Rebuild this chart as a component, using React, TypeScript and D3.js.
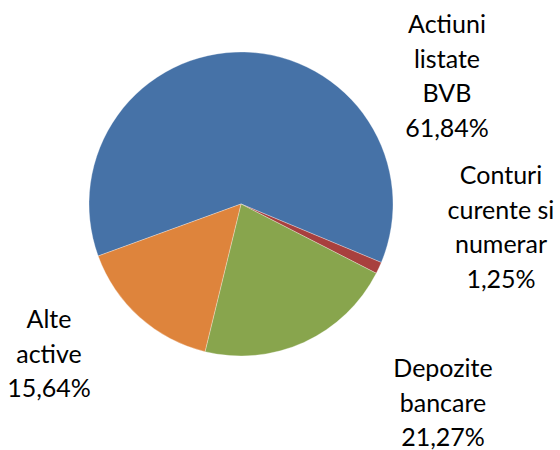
import React from "react";
import * as d3 from "d3";

const categories = ["Actiuni listate BVB", "Conturi curente si numerar", "Depozite bancare", "Alte active"];
const values = [61.84, 1.25, 21.27, 15.64];
const labelLines = [
  ["Actiuni", "listate", "BVB", "61,84%"],
  ["Conturi", "curente si", "numerar", "1,25%"],
  ["Depozite", "bancare", "21,27%"],
  ["Alte", "active", "15,64%"],
];
const colors = ["#4672A7", "#A8403E", "#88A54D", "#DE843C"];

const W = 560;
const H = 450;
const cx = 241;
const cy = 204;
const R = 152;
const startDeg = 250;
const labelPos: [number, number][] = [
  [447, 33],
  [501, 184],
  [443, 377],
  [49, 328],
];
const lineH = 34.5;

export default function App() {
  const data = categories.map((c, i) => ({ c, v: values[i], i }));
  const start = (startDeg * Math.PI) / 180;
  const pie = d3
    .pie<any>()
    .sort(null)
    .value((d: any) => d.v)
    .startAngle(start)
    .endAngle(start + 2 * Math.PI);
  const arc = d3.arc<any>().innerRadius(0).outerRadius(R);
  const arcs = pie(data);
  return (
    <div style={{ position: "fixed", left: 0, top: 0 }}>
      <svg width={W} height={H} style={{ display: "block", background: "#fff" }}>
        <g transform={`translate(${cx},${cy})`}>
          {arcs.map((a, i) => (
            <path key={i} d={arc(a) as string} fill={colors[i]} stroke="#ffffff" strokeOpacity={0.4} strokeWidth={0.75} />
          ))}
        </g>
        {labelLines.map((lines, i) => (
          <text
            key={i}
            x={labelPos[i][0]}
            y={labelPos[i][1]}
            textAnchor="middle"
            fontFamily="Lato, 'Open Sans', sans-serif"
            fontSize={25}
            fill="#000"
          >
            {lines.map((l, j) => (
              <tspan key={j} x={labelPos[i][0]} y={labelPos[i][1] + j * lineH}>
                {l}
              </tspan>
            ))}
          </text>
        ))}
      </svg>
    </div>
  );
}
